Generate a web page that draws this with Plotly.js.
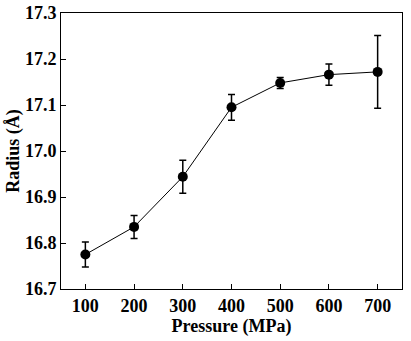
<!DOCTYPE html>
<html><head><meta charset="utf-8">
<script src="https://cdn.plot.ly/plotly-3.0.1.min.js"></script>
<style>html,body{margin:0;padding:0;background:#fff}#chart{width:411px;height:341px}</style>
</head><body><div id="chart"></div>
<script>
const pressure = [100, 200, 300, 400, 500, 600, 700];
const radius = [16.775, 16.835, 16.944, 17.095, 17.148, 17.166, 17.172];
const radiusErr = [0.027, 0.025, 0.036, 0.028, 0.012, 0.023, 0.079];
const yTicks = [16.7, 16.8, 16.9, 17.0, 17.1, 17.2, 17.3];
const xTicks = [100, 200, 300, 400, 500, 600, 700];

const font = {family: '"Liberation Serif", "Times New Roman", serif', color: '#000'};
Plotly.newPlot('chart', [{
  x: pressure, y: radius, type: 'scatter', mode: 'lines+markers',
  line: {color: '#000', width: 1},
  marker: {color: '#000', size: 10},
  error_y: {type: 'data', array: radiusErr, visible: true, color: '#000', thickness: 1.5, width: 3.5}
}], {
  width: 411, height: 341,
  margin: {l: 61, r: 9, t: 13, b: 52},
  paper_bgcolor: '#fff', plot_bgcolor: '#fff',
  showlegend: false,
  font: Object.assign({}, font, {size: 18}),
  xaxis: {
    range: [50, 750], tickvals: xTicks, ticktext: xTicks.map(String),
    ticks: 'inside', ticklen: 5, tickwidth: 1, tickcolor: '#000',
    showline: true, linecolor: '#000', linewidth: 1, mirror: true,
    showgrid: false, zeroline: false,
    tickfont: Object.assign({}, font, {size: 18, weight: 'bold'}),
    title: {text: '<b>Pressure (MPa)</b>', font: Object.assign({}, font, {size: 18}), standoff: 2}
  },
  yaxis: {
    range: [16.7, 17.3], tickvals: yTicks, ticktext: yTicks.map(v => v.toFixed(1)),
    ticks: 'inside', ticklen: 5, tickwidth: 1, tickcolor: '#000',
    showline: true, linecolor: '#000', linewidth: 1, mirror: true,
    showgrid: false, zeroline: false,
    tickfont: Object.assign({}, font, {size: 18, weight: 'bold'}),
    title: {text: '<b>Radius (Å)</b>', font: Object.assign({}, font, {size: 18}), standoff: 0}
  }
}, {displayModeBar: false, staticPlot: true});
</script></body></html>
